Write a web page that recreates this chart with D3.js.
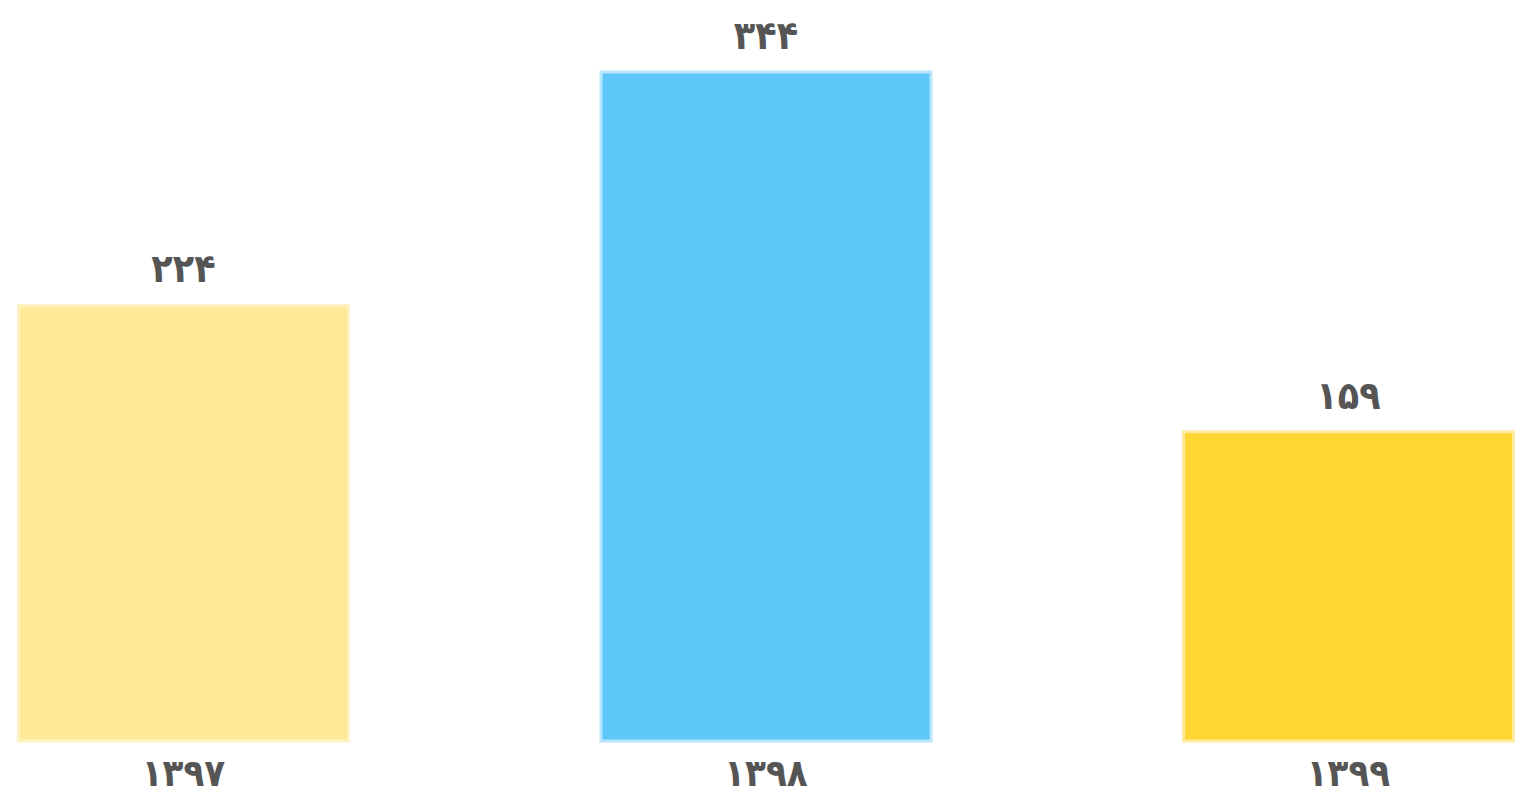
<!DOCTYPE html>
<html>
<head>
<meta charset="utf-8">
<script src="https://cdn.jsdelivr.net/npm/d3@7"></script>
<style>
  html, body { margin: 0; padding: 0; background: #fff; }
  svg text { font-family: "DejaVu Sans Condensed", "DejaVu Sans", sans-serif; font-weight: bold; fill: #555; }
</style>
</head>
<body>
<svg id="chart" width="1521" height="798"></svg>
<script>
const years = [1397, 1398, 1399];
const values = [224, 344, 159];
const colors = ['#FFE999', '#5DC7FA', '#FFD634'];
const strokes = ['#FFF2C2', '#B8E6FD', '#FFEBA0'];

const faDigits = '۰۱۲۳۴۵۶۷۸۹';
const toFa = n => String(n).replace(/\d/g, c => faDigits[+c]);

const data = years.map((y, i) => ({ year: y, value: values[i], color: colors[i], stroke: strokes[i] }));

const svg = d3.select('#chart');

const x = d3.scaleBand()
  .domain(years)
  .range([18.5, 1513.5])
  .paddingInner(0.4335)
  .paddingOuter(0);

const y = d3.scaleLinear()
  .domain([0, 344])
  .range([741, 72]);

svg.selectAll('rect.bar')
  .data(data)
  .enter()
  .append('rect')
  .attr('class', 'bar')
  .attr('x', d => x(d.year))
  .attr('y', d => y(d.value))
  .attr('width', x.bandwidth())
  .attr('height', d => y(0) - y(d.value))
  .attr('fill', d => d.color)
  .attr('stroke', d => d.stroke)
  .attr('stroke-width', 3);

svg.selectAll('text.value')
  .data(data)
  .enter()
  .append('text')
  .attr('class', 'value')
  .attr('x', d => x(d.year) + x.bandwidth() / 2)
  .attr('y', d => y(d.value) - 23)
  .attr('text-anchor', 'middle')
  .style('font-size', '39px')
  .text(d => toFa(d.value));

svg.selectAll('text.year')
  .data(data)
  .enter()
  .append('text')
  .attr('class', 'year')
  .attr('x', d => x(d.year) + x.bandwidth() / 2)
  .attr('y', 786)
  .attr('text-anchor', 'middle')
  .style('font-size', '38px')
  .text(d => toFa(d.year));
</script>
</body>
</html>
